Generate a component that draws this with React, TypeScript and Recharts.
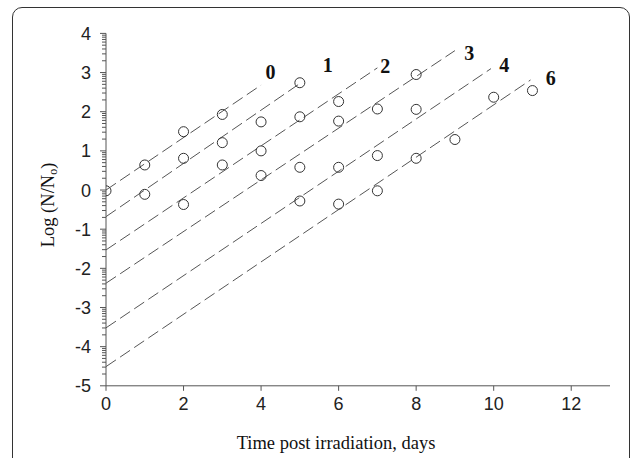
import { ComposedChart, Line, Scatter, XAxis, YAxis, ReferenceDot, Label } from 'recharts';

// dose groups (Gy) and their fitted regression lines
const doses = ['0', '1', '2', '3', '4', '6'];
const lineStartY = [0, -0.68, -1.53, -2.38, -3.52, -4.51];
const lineEndX = [4.0, 5.0, 7.0, 9.0, 9.93, 10.95];
const lineEndY = [2.68, 2.72, 3.12, 3.56, 3.1, 2.81];
const labelX = [4.24, 5.72, 7.2, 9.37, 10.27, 11.47];
const labelY = [3.02, 3.19, 3.17, 3.51, 3.19, 2.85];

// measured points per dose
const dose0Days = [0, 1, 2, 3];
const dose0Log = [-0.02, 0.64, 1.49, 1.93];
const dose1Days = [1, 2, 3, 4, 5];
const dose1Log = [-0.11, 0.81, 1.21, 1.74, 2.74];
const dose2Days = [2, 3, 4, 5, 6];
const dose2Log = [-0.37, 0.64, 1.0, 1.87, 2.26];
const dose3Days = [4, 5, 6, 7, 8];
const dose3Log = [0.37, 0.58, 1.76, 2.07, 2.95];
const dose4Days = [5, 6, 7, 8];
const dose4Log = [-0.28, 0.58, 0.88, 2.06];
const dose6Days = [6, 7, 8, 9, 10, 11];
const dose6Log = [-0.36, -0.02, 0.81, 1.29, 2.37, 2.54];

const xTicks = [0, 2, 4, 6, 8, 10, 12];
const yMajorTicks = [-5, -4, -3, -2, -1, 0, 1, 2, 3, 4];
const minorSteps = [2, 3, 4, 5, 6, 7, 8, 9];

const yMinorTicks = yMajorTicks
    .filter((v) => v > -5)
    .flatMap((v) => minorSteps.map((k) => v - 1 + Math.log10(k)));
const yAllTicks = [...yMajorTicks, ...yMinorTicks];

const toPoints = (days: number[], vals: number[]) => days.map((d, i) => ({ x: d, y: vals[i] }));

const pointGroups = [
    toPoints(dose0Days, dose0Log),
    toPoints(dose1Days, dose1Log),
    toPoints(dose2Days, dose2Log),
    toPoints(dose3Days, dose3Log),
    toPoints(dose4Days, dose4Log),
    toPoints(dose6Days, dose6Log),
];

const lineData = doses.map((_, i) => [
    { x: 0, y: lineStartY[i] },
    { x: lineEndX[i], y: lineEndY[i] },
]);

const AXIS = '#555';
const SANS = '"Liberation Sans", Arial, sans-serif';
const SERIF = '"Liberation Serif", "Times New Roman", serif';

const YTick = (props: any) => {
    const { x, y, payload } = props;
    const v = payload.value;
    const major = Math.abs(v - Math.round(v)) < 1e-6;
    return (
        <g>
            <line x1={x - (major ? 6 : 4)} x2={x} y1={y} y2={y} stroke={AXIS} strokeWidth={1} />
            {major && (
                <text x={x - 15} y={y} dy="0.36em" textAnchor="end" fontSize={18} fontFamily={SANS} fill="#222">
                    {Math.round(v)}
                </text>
            )}
        </g>
    );
};

const Circle = (p: any) => <circle cx={p.cx} cy={p.cy} r={5} fill="none" stroke="#333" strokeWidth={1} />;

export default function App() {
    return (
        <div style={{ position: 'absolute', left: 0, top: 0, width: 632, height: 458, overflow: 'hidden', background: '#fff' }}>
            <div
                style={{
                    position: 'absolute',
                    left: 12,
                    top: 7,
                    width: 616,
                    height: 480,
                    border: '1.5px solid #333',
                    borderRadius: 10,
                }}
            />
            <ComposedChart
                width={632}
                height={458}
                margin={{ top: 33.4, right: 22, bottom: 42.2, left: 46 }}
                style={{ position: 'absolute', left: 0, top: 0 }}
            >
                <XAxis
                    dataKey="x"
                    type="number"
                    domain={[0, 13]}
                    ticks={xTicks}
                    interval={0}
                    height={30}
                    stroke={AXIS}
                    tickSize={5}
                    tickMargin={6}
                    tick={{ fontSize: 18, fill: '#222', fontFamily: SANS }}
                    allowDataOverflow
                >
                    <Label
                        content={() => (
                            <text x={336} y={449} textAnchor="middle" fontSize={18.5} fontFamily={SERIF} fill="#111">
                                Time post irradiation, days
                            </text>
                        )}
                    />
                </XAxis>
                <YAxis
                    dataKey="y"
                    type="number"
                    domain={[-5, 4]}
                    ticks={yAllTicks}
                    interval={0}
                    width={60}
                    stroke={AXIS}
                    tickLine={false}
                    tickSize={0}
                    tickMargin={0}
                    tick={<YTick />}
                    allowDataOverflow
                >
                    <Label
                        content={() => (
                            <text
                                x={48}
                                y={205}
                                transform="rotate(-90, 48, 205)"
                                textAnchor="middle"
                                dominantBaseline="central"
                                fontSize={18.5}
                                fontFamily={SERIF}
                                fill="#111"
                            >
                                Log (N/N
                                <tspan fontSize={12} dy={5}>o</tspan>
                                <tspan dy={-5}>)</tspan>
                            </text>
                        )}
                    />
                </YAxis>
                {lineData.map((d, i) => (
                    <Line
                        key={'l' + doses[i]}
                        data={d}
                        dataKey="y"
                        stroke="#555"
                        strokeWidth={1}
                        strokeDasharray="12 5"
                        dot={false}
                        activeDot={false}
                        isAnimationActive={false}
                    />
                ))}
                {pointGroups.map((d, i) => (
                    <Scatter key={'s' + doses[i]} data={d} shape={<Circle />} isAnimationActive={false} />
                ))}
                {doses.map((name, i) => (
                    <ReferenceDot
                        key={'t' + name}
                        x={labelX[i]}
                        y={labelY[i]}
                        r={0}
                        shape={(p: any) => (
                            <text
                                x={p.cx}
                                y={p.cy}
                                dy="0.35em"
                                textAnchor="middle"
                                fontSize={20}
                                fontWeight="bold"
                                fontFamily={SERIF}
                                fill="#111"
                            >
                                {name}
                            </text>
                        )}
                    />
                ))}
            </ComposedChart>
        </div>
    );
}
